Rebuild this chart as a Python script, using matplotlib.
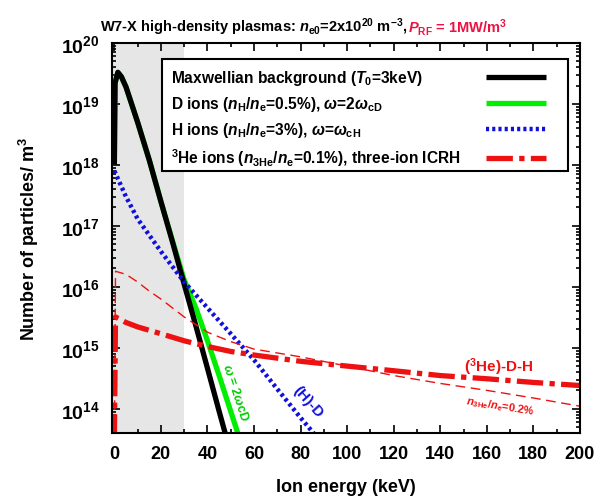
import matplotlib
matplotlib.use("Agg")
import matplotlib.pyplot as plt
from matplotlib.ticker import MultipleLocator, LogLocator, NullFormatter
from matplotlib.patches import Rectangle

plt.rcParams['font.family'] = ['Liberation Sans', 'DejaVu Sans']
plt.rcParams['font.weight'] = 'bold'
plt.rcParams['mathtext.fontset'] = 'custom'
plt.rcParams['mathtext.rm'] = 'Liberation Sans:bold'
plt.rcParams['mathtext.bf'] = 'Liberation Sans:bold'
plt.rcParams['mathtext.it'] = 'Liberation Sans:italic:bold'
plt.rcParams['mathtext.default'] = 'it'

# Donnees (energie en keV, densite en m^-3)
e_maxw = [0, 0.3, 1.5, 3, 5, 10, 15, 20, 25, 30, 35, 40, 45, 48]
n_maxw = [1.0e18, 2.2e19, 3.3e19, 2.8e19, 1.9e19, 5.0e18, 1.2e18, 2.5e17,
          5.4e16, 1.1e16, 2.3e15, 4.6e14, 9.1e13, 3.5e13]

e_d = [0, 0.3, 1.5, 3, 5, 10, 15, 20, 25, 30, 35, 40, 45, 50, 53]
n_d = [1.0e18, 2.2e19, 3.3e19, 2.8e19, 1.9e19, 5.0e18, 1.2e18, 2.5e17,
       5.6e16, 1.3e16, 4.5e15, 1.3e15, 3.5e14, 9.0e13, 4.0e13]

e_h = [0, 5, 10, 20, 30, 40, 50, 60, 70, 80, 86]
n_h = [8.0e17, 3.0e17, 1.3e17, 3.8e16, 1.2e16, 4.5e15, 1.7e15, 6.3e14,
       2.1e14, 7.1e13, 3.8e13]

e_he3 = [0, 0.5, 5, 10, 20, 30, 40, 50, 60, 80, 100, 120, 140, 160, 180, 200]
n_he3 = [3.0e13, 3.2e15, 2.6e15, 2.2e15, 1.7e15, 1.3e15, 1.05e15, 8.7e14,
         7.6e14, 6.0e14, 5.0e14, 4.2e14, 3.5e14, 3.1e14, 2.7e14, 2.4e14]

e_he3b = [0, 0.5, 5, 10, 15, 20, 30, 40, 50, 60, 80, 100, 120, 140, 160, 180, 200]
n_he3b = [3.0e13, 1.8e16, 1.6e16, 1.2e16, 8.5e15, 6.3e15, 3.2e15, 1.8e15,
          1.26e15, 9.5e14, 7.1e14, 5.0e14, 3.5e14, 2.6e14, 2.0e14, 1.5e14, 1.1e14]

labels = [r'Maxwellian background ($T_0$=3keV)',
          r'D ions ($n_\mathrm{H}/n_\mathrm{e}$=0.5%), $\omega$=2$\omega_\mathrm{cD}$',
          r'H ions ($n_\mathrm{H}/n_\mathrm{e}$=3%), $\omega$=$\omega_\mathrm{cH}$',
          r'$^\mathrm{3}$He ions ($n_\mathrm{3He}/n_\mathrm{e}$=0.1%), three-ion ICRH']

fig = plt.figure(figsize=(6.01, 5.02), dpi=100)
ax = fig.add_axes([0.1864, 0.1355, 0.7786, 0.7769])

# zone grisee (basse energie)
ax.axvspan(-1, 30, color='#e6e6e6', lw=0, zorder=0)

l_d, = ax.plot(e_d, n_d, color='#00ee00', lw=3.8, solid_capstyle='butt')
l_m, = ax.plot(e_maxw, n_maxw, color='black', lw=3.8, solid_capstyle='butt')
l_h, = ax.plot(e_h, n_h, color='#1010dd', lw=3.2, linestyle=(0, (0.7, 0.7)))
ax.plot(e_he3b, n_he3b, color='#ee1111', lw=1.0, linestyle=(0, (7, 4)))
l_he, = ax.plot(e_he3, n_he3, color='#ee1111', lw=3.8, linestyle=(0, (5, 1.2, 1, 1.2)))

ax.set_yscale('log')
ax.set_xlim(-1, 200)
ax.set_ylim(4e13, 1e20)

ax.xaxis.set_major_locator(MultipleLocator(20))
ax.xaxis.set_minor_locator(MultipleLocator(10))
ax.yaxis.set_major_locator(LogLocator(base=10, numticks=10))
ax.yaxis.set_minor_locator(LogLocator(base=10, subs=range(2, 10), numticks=20))
ax.yaxis.set_minor_formatter(NullFormatter())
ax.tick_params(which='both', direction='in', top=True, right=True, width=1.2)
ax.tick_params(which='major', length=6, labelsize=13, pad=9)
ax.tick_params(axis='y', which='major', labelsize=14)
ax.tick_params(which='minor', length=3)
for s in ax.spines.values():
    s.set_linewidth(1.5)

ax.set_xlabel('Ion energy (keV)', fontsize=13, fontweight='bold', labelpad=11)
ax.set_ylabel(r'Number of particles/ m$^\mathrm{3}$', fontsize=13, fontweight='bold', labelpad=14)

# cadre de la legende, textes a gauche et traits a droite
ax.add_patch(Rectangle((0.107, 0.672), 0.867, 0.287, transform=ax.transAxes,
                       facecolor='white', edgecolor='black', lw=1.5, zorder=4.5))
vide = [plt.Line2D([], [], lw=0) for _ in labels]
leg1 = ax.legend(vide, labels, loc='upper left', bbox_to_anchor=(0.1, 0.967),
                 fontsize=11.2, handlelength=0, handletextpad=0, frameon=False,
                 labelspacing=0.45, borderpad=0.3)
ax.add_artist(leg1)
leg2 = ax.legend([l_m, l_d, l_h, l_he], labels, loc='upper right',
                 bbox_to_anchor=(0.955, 0.967), fontsize=11.2, handlelength=3.9,
                 handletextpad=0, frameon=False, labelspacing=0.45, borderpad=0.3,
                 markerfirst=False)
for t in leg2.get_texts():
    t.set_visible(False)

# annotations sur les courbes
ax.text(52, 1.9e14, r'$\omega$ = 2$\omega$cD', color='#00cc00', fontsize=9,
        rotation=-72, ha='center', va='center')
ax.text(83, 1.35e14, '(H)-D', color='#1010dd', fontsize=11,
        rotation=-48, ha='center', va='center')
ax.text(165, 4.9e14, r'($^\mathrm{3}$He)-D-H', color='#ee1111', fontsize=11,
        ha='center', va='center')
ax.text(166, 1.12e14, r'$n_\mathrm{3He}/n_\mathrm{e}$=0.2%', color='#ee1111',
        fontsize=8, rotation=-9, ha='center', va='center')

# titre en deux couleurs
t1 = fig.text(100 / 601, 1 - 27 / 502,
              r'W7-X high-density plasmas: $n_\mathrm{e0}$=2x10$^\mathrm{20}$ m$^\mathrm{-3}$, ',
              fontsize=10.5, fontweight='bold', va='center')
fig.canvas.draw()
bb = t1.get_window_extent()
fig.text(bb.x1 / fig.bbox.width, 1 - 27 / 502, r'$P_\mathrm{RF}$ = 1MW/m$^\mathrm{3}$',
         fontsize=10.5, fontweight='bold', color='#ee1144', va='center')

fig.savefig('out.png', dpi=100)
